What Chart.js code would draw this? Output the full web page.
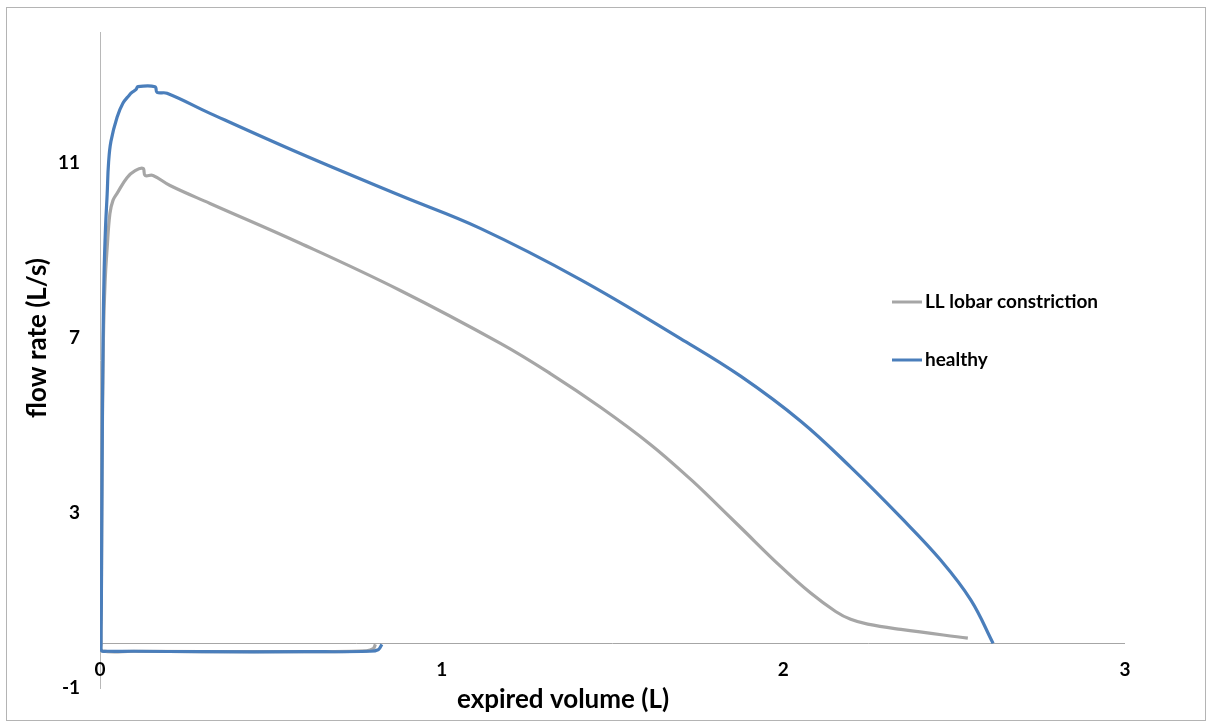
<!DOCTYPE html>
<html><head><meta charset="utf-8">
<script src="https://cdn.jsdelivr.net/npm/chart.js@4"></script>
<style>
html,body{margin:0;padding:0;background:#fff;}
#wrap{position:relative;width:1212px;height:726px;}
#frame{position:absolute;left:6px;top:7px;width:1200px;height:714px;border:1px solid #b4b4b4;box-sizing:border-box;pointer-events:none;}
canvas{display:block;}
</style></head><body>
<div id="wrap"><canvas id="c" width="1212" height="726" style="width:1212px;height:726px"></canvas><div id="frame"></div></div>
<script>
const xTicks = [0, 1, 2, 3];
const yTicks = [-1, 3, 7, 11];
const seriesNames = ['LL lobar constriction', 'healthy'];
const xTitle = 'expired volume (L)';
const yTitle = 'flow rate (L/s)';

const healthyVolume = [0.825, 0.815, 0.79, 0.6, 0.3, 0.1, 0.02, 0.005, 0.003, 0.004, 0.006, 0.009, 0.012, 0.016, 0.021, 0.025, 0.032, 0.05, 0.067, 0.085, 0.094, 0.105, 0.111, 0.161, 0.167, 0.196, 0.322, 0.586, 0.879, 1.113, 1.406, 1.699, 1.875, 2.051, 2.197, 2.344, 2.461, 2.549, 2.614];
const healthyFlow   = [0.0, -0.12, -0.16, -0.17, -0.17, -0.16, -0.16, -0.15, 0.0, 1.0, 4.0, 7.0, 8.5, 9.5, 10.3, 11.0, 11.5, 12.05, 12.37, 12.55, 12.62, 12.68, 12.75, 12.75, 12.62, 12.6, 12.14, 11.22, 10.26, 9.51, 8.34, 6.99, 6.13, 5.10, 4.05, 2.90, 1.92, 1.01, 0.02];

const constrictedVolume = [0.806, 0.80, 0.78, 0.5, 0.1, 0.005, 0.003, 0.004, 0.006, 0.010, 0.015, 0.021, 0.029, 0.038, 0.05, 0.079, 0.103, 0.126, 0.132, 0.155, 0.205, 0.322, 0.586, 0.879, 1.172, 1.318, 1.465, 1.611, 1.729, 1.787, 1.875, 1.992, 2.08, 2.153, 2.197, 2.247, 2.344, 2.54];
const constrictedFlow   = [0.0, -0.1, -0.15, -0.17, -0.16, -0.15, 0.0, 1.0, 4.0, 7.0, 8.3, 9.07, 9.85, 10.15, 10.31, 10.67, 10.83, 10.88, 10.72, 10.72, 10.49, 10.08, 9.17, 8.09, 6.88, 6.19, 5.42, 4.57, 3.77, 3.34, 2.67, 1.78, 1.17, 0.75, 0.57, 0.46, 0.34, 0.14];

const toPoints = (xs, ys) => xs.map((x, i) => ({x: x, y: ys[i]}));

const FONT = 'Lato, "Open Sans", "DejaVu Sans", sans-serif';
const GRAY = '#a6a6a6';
const BLUE = '#4a7ebb';

const decor = {
  id: 'decor',
  beforeDatasetsDraw(chart) {
    const {ctx, chartArea, scales} = chart;
    const py = Math.round(scales.y.getPixelForValue(0)) - 0.5;
    ctx.save();
    ctx.strokeStyle = '#a6a6a6';
    ctx.lineWidth = 1;
    ctx.beginPath();
    ctx.moveTo(chartArea.left, py);
    ctx.lineTo(chartArea.right, py);
    ctx.stroke();
    ctx.restore();
  },
  afterDraw(chart) {
    const {ctx, scales} = chart;
    // x tick labels (drawn from the x scale's ticks)
    ctx.save();
    ctx.fillStyle = '#000';
    ctx.font = 'bold 19px ' + FONT;
    ctx.textAlign = 'center';
    ctx.textBaseline = 'middle';
    scales.x.ticks.forEach(t => {
      ctx.fillText(String(t.value), scales.x.getPixelForValue(t.value), 670);
    });
    ctx.restore();

    // axis titles
    ctx.save();
    ctx.fillStyle = '#000';
    ctx.textAlign = 'center';
    ctx.textBaseline = 'middle';
    ctx.font = 'bold 26px ' + FONT;
    ctx.fillText(xTitle, 563, 700);
    ctx.font = 'bold 26px ' + FONT;
    ctx.translate(38, 338);
    ctx.rotate(-Math.PI / 2);
    ctx.fillText(yTitle, 0, 0);
    ctx.restore();

    // legend
    ctx.save();
    ctx.font = 'bold 19px ' + FONT;
    ctx.textAlign = 'left';
    ctx.textBaseline = 'middle';
    const rows = [302, 360];
    chart.data.datasets.forEach((ds, i) => {
      const y = rows[i];
      ctx.strokeStyle = ds.borderColor;
      ctx.lineWidth = 3;
      ctx.beginPath();
      ctx.moveTo(892, y);
      ctx.lineTo(922, y);
      ctx.stroke();
      ctx.fillStyle = '#000';
      ctx.fillText(ds.label, 925, y);
    });
    ctx.restore();
  }
};

new Chart(document.getElementById('c'), {
  type: 'scatter',
  data: {
    datasets: [
      { label: seriesNames[0], data: toPoints(constrictedVolume, constrictedFlow), borderColor: GRAY, backgroundColor: GRAY, showLine: true, borderWidth: 3.2, pointRadius: 0, tension: 0.4, order: 1 },
      { label: seriesNames[1], data: toPoints(healthyVolume, healthyFlow), borderColor: BLUE, backgroundColor: BLUE, showLine: true, borderWidth: 3.2, pointRadius: 0, tension: 0.4, order: 0 }
    ]
  },
  options: {
    responsive: false,
    animation: false,
    devicePixelRatio: 1,
    layout: { padding: { left: 0, top: 32, right: 87, bottom: 0 } },
    plugins: { legend: { display: false }, tooltip: { enabled: false } },
    scales: {
      x: {
        type: 'linear', min: 0, max: 3,
        grid: { display: false, drawTicks: false },
        border: { display: false },
        ticks: { display: false },
        afterBuildTicks: s => { s.ticks = xTicks.map(v => ({value: v})); },
        afterFit: s => { s.height = 38; }
      },
      y: {
        type: 'linear', min: -1, max: 14,
        grid: { display: false, drawTicks: false },
        border: { display: true, color: '#b8b8b8', width: 1 },
        ticks: { color: '#000', padding: 20, font: { family: FONT, size: 19, weight: 'bold' } },
        afterBuildTicks: s => { s.ticks = yTicks.map(v => ({value: v})); },
        afterFit: s => { s.width = 100; }
      }
    }
  },
  plugins: [decor]
});
</script>
</body></html>
